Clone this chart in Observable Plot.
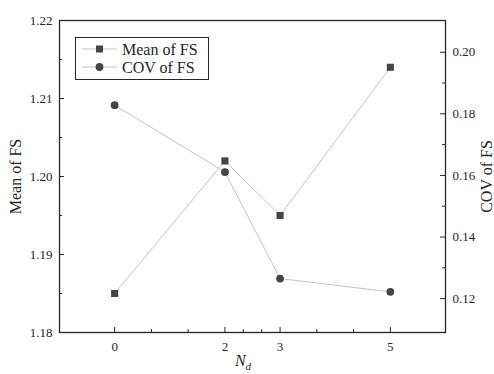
<!DOCTYPE html>
<html><head>
<meta charset="utf-8">
<script src="https://cdn.jsdelivr.net/npm/d3@7"></script>
<script src="https://cdn.jsdelivr.net/npm/@observablehq/plot@0.6"></script>
<style>
body{margin:0;background:#fff}
#c{position:relative;width:494px;height:374px}
#legend{position:absolute;left:75px;top:37px}
svg text{font-family:"Liberation Serif", serif}
</style>
</head><body><div id="c"></div>
<script>
const nd = [0, 2, 3, 5];
const meanFS = [1.185, 1.202, 1.195, 1.214];
const covFS = [0.1828, 0.1611, 0.1265, 0.1222];
const xTicks = [0, 2, 3, 5];
const xMinorTicks = [0.667, 1.333, 2.333, 2.667, 3.667, 4.333];
const leftTicks = [1.18, 1.19, 1.20, 1.21, 1.22];
const leftMinorTicks = [1.185, 1.195, 1.205, 1.215];
const rightTicks = [0.12, 0.14, 0.16, 0.18, 0.20];
const rightMinorTicks = [0.13, 0.15, 0.17, 0.19];
const xDomain = [-1, 6];
const leftDomain = [1.18, 1.22];
const rightDomain = [0.109, 0.2103];

const W = 494, H = 374, mL = 59, mR = 49, mT = 20, mB = 42;
const pw = W - mL - mR, ph = H - mT - mB;
const toLeft = c => leftDomain[0] + (c - rightDomain[0]) / (rightDomain[1] - rightDomain[0]) * (leftDomain[1] - leftDomain[0]);
const toRight = y => rightDomain[0] + (y - leftDomain[0]) / (leftDomain[1] - leftDomain[0]) * (rightDomain[1] - rightDomain[0]);

const meanData = nd.map((x, i) => ({x, y: meanFS[i]}));
const covData = nd.map((x, i) => ({x, y: toLeft(covFS[i])}));
const ink = "#262626", lineC = "#c4c4c4", markC = "#454545";
const ff = "Liberation Serif";

const chart = Plot.plot({
  width: W, height: H, marginLeft: mL, marginRight: mR, marginTop: mT, marginBottom: mB,
  style: {fontFamily: ff, fontSize: "13px", color: ink, background: "white"},
  x: {domain: xDomain},
  y: {domain: leftDomain},
  marks: [
    Plot.line(meanData, {x: "x", y: "y", stroke: lineC, strokeWidth: 1}),
    Plot.line(covData, {x: "x", y: "y", stroke: lineC, strokeWidth: 1}),
    Plot.dot(meanData, {x: "x", y: "y", symbol: "square", r: 4, fill: markC, stroke: "none"}),
    Plot.dot(covData, {x: "x", y: "y", symbol: "circle", r: 3.9, fill: markC, stroke: "none"}),
    // inward ticks
    Plot.tickY(leftTicks, {y: d => d, insetRight: pw - 5, stroke: ink}),
    Plot.tickY(leftMinorTicks, {y: d => d, insetRight: pw - 3, stroke: ink}),
    Plot.tickY(rightTicks.map(toLeft), {y: d => d, insetLeft: pw - 5, stroke: ink}),
    Plot.tickY(rightMinorTicks.map(toLeft), {y: d => d, insetLeft: pw - 3, stroke: ink}),
    Plot.tickX(xTicks, {x: d => d, insetTop: ph - 5, stroke: ink}),
    Plot.tickX(xMinorTicks, {x: d => d, insetTop: ph - 3, stroke: ink}),
    Plot.axisY(leftTicks, {anchor: "left", tickSize: 0, tickPadding: 7, tickFormat: d3.format(".2f"), label: null, fontFamily: ff, fill: ink}),
    Plot.axisY(rightTicks.map(toLeft), {anchor: "right", tickSize: 0, tickPadding: 7, tickFormat: d => toRight(d).toFixed(2), label: null, fontFamily: ff, fill: ink}),
    Plot.axisX(xTicks, {anchor: "bottom", tickSize: 0, tickPadding: 9, tickFormat: d3.format("d"), label: null, fontFamily: ff, fill: ink}),
    Plot.axisY({anchor: "left", ticks: [], label: "Mean of FS", labelAnchor: "center", labelOffset: 50, labelArrow: "none", fontSize: 16, fontFamily: ff, fill: ink}),
    Plot.axisY({anchor: "right", ticks: [], label: "COV of FS", labelAnchor: "center", labelOffset: 46, labelArrow: "none", fontSize: 16, fontFamily: ff, fill: ink}),
    Plot.frame({stroke: ink, strokeWidth: 1.3})
  ]
});

// x-axis label with subscript
const svg = d3.select(chart);
const xl = svg.append("text")
  .attr("x", 243).attr("y", 366)
  .attr("text-anchor", "middle")
  .attr("font-family", ff)
  .attr("font-size", 16).attr("font-style", "italic").attr("fill", ink);
xl.append("tspan").text("N");
xl.append("tspan").attr("font-size", 11).attr("dy", 4).text("d");

const c = document.getElementById("c");
c.appendChild(chart);

// legend
const series = [
  {name: "Mean of FS", symbol: "square"},
  {name: "COV of FS", symbol: "circle"}
];
const lg = d3.select(c).append("svg").attr("id", "legend").attr("width", 135).attr("height", 44);
lg.append("rect").attr("x", 0.5).attr("y", 0.5).attr("width", 133).attr("height", 42)
  .attr("fill", "white").attr("stroke", ink).attr("stroke-width", 1);
series.forEach((s, i) => {
  const cy = 12 + i * 18;
  lg.append("line").attr("x1", 7).attr("x2", 42).attr("y1", cy).attr("y2", cy).attr("stroke", lineC);
  if (s.symbol === "square") lg.append("rect").attr("x", 21).attr("y", cy - 3.5).attr("width", 7).attr("height", 7).attr("fill", markC);
  else lg.append("circle").attr("cx", 24.5).attr("cy", cy).attr("r", 3.9).attr("fill", markC);
  lg.append("text").attr("x", 47).attr("y", cy + 5.5).attr("font-family", ff)
    .attr("font-size", 16).attr("fill", ink).text(s.name);
});
</script>
</body></html>
